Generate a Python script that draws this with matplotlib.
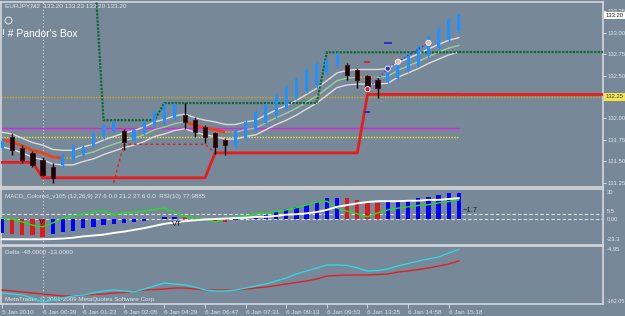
import numpy as np
import matplotlib
matplotlib.use('Agg')
import matplotlib.pyplot as plt
import matplotlib.transforms as mtrans

plt.rcParams['font.family'] = ['Liberation Sans', 'DejaVu Sans']

# EURJPY M2 heiken-ashi style candles
opens = [131.66, 131.78, 131.66, 131.60, 131.52, 131.44, 131.46, 131.52, 131.58, 131.68,
         131.78, 131.85, 131.85, 131.75, 131.83, 131.92, 131.96, 132.01, 132.04, 131.98,
         131.90, 131.83, 131.75, 131.68, 131.77, 131.87, 131.95, 132.03, 132.12, 132.24,
         132.32, 132.39, 132.53, 132.63, 132.62, 132.56, 132.49, 132.45, 132.42, 132.47,
         132.56, 132.62, 132.73, 132.82, 132.91, 133.02]
highs = [131.77, 131.83, 131.69, 131.62, 131.55, 131.48, 131.60, 131.70, 131.69, 131.84,
         131.94, 131.98, 131.88, 131.89, 131.98, 132.10, 132.18, 132.18, 132.18, 132.02,
         131.92, 131.84, 131.77, 131.89, 131.98, 132.10, 132.18, 132.30, 132.39, 132.48,
         132.59, 132.66, 132.70, 132.77, 132.65, 132.59, 132.51, 132.47, 132.54, 132.68,
         132.76, 132.85, 132.97, 133.06, 133.17, 133.23]
lows = [131.63, 131.58, 131.48, 131.44, 131.33, 131.25, 131.42, 131.49, 131.55, 131.66,
        131.76, 131.83, 131.63, 131.73, 131.81, 131.90, 131.92, 131.98, 131.88, 131.78,
        131.71, 131.59, 131.58, 131.66, 131.75, 131.84, 131.92, 132.01, 132.10, 132.22,
        132.30, 132.35, 132.51, 132.59, 132.45, 132.35, 132.31, 132.24, 132.41, 132.45,
        132.54, 132.60, 132.70, 132.80, 132.89, 133.00]
closes = [131.74, 131.63, 131.52, 131.46, 131.34, 131.31, 131.57, 131.68, 131.67, 131.82,
          131.91, 131.96, 131.73, 131.87, 131.96, 132.08, 132.15, 132.16, 131.96, 131.84,
          131.78, 131.67, 131.69, 131.87, 131.96, 132.08, 132.16, 132.27, 132.37, 132.46,
          132.56, 132.63, 132.68, 132.73, 132.51, 132.45, 132.38, 132.35, 132.53, 132.66,
          132.74, 132.83, 132.95, 133.04, 133.15, 133.20]

# moving average and its envelope
ma_mid = [131.75, 131.73, 131.68, 131.63, 131.60, 131.55, 131.54, 131.54, 131.58, 131.61,
          131.66, 131.70, 131.74, 131.77, 131.81, 131.87, 131.90, 131.94, 131.96, 131.92,
          131.89, 131.87, 131.84, 131.84, 131.87, 131.89, 131.95, 132.01, 132.06, 132.12,
          132.19, 132.26, 132.35, 132.44, 132.47, 132.48, 132.48, 132.48, 132.49, 132.56,
          132.61, 132.66, 132.72, 132.77, 132.82, 132.85]
ma_upper = [131.84, 131.82, 131.77, 131.72, 131.69, 131.64, 131.63, 131.63, 131.67, 131.70,
            131.75, 131.79, 131.83, 131.86, 131.90, 131.96, 131.99, 132.03, 132.05, 132.01,
            131.98, 131.96, 131.93, 131.93, 131.96, 131.98, 132.04, 132.10, 132.15, 132.21,
            132.28, 132.35, 132.44, 132.53, 132.56, 132.57, 132.57, 132.57, 132.58, 132.65,
            132.70, 132.75, 132.81, 132.86, 132.91, 132.94]
ma_lower = [131.67, 131.64, 131.60, 131.55, 131.52, 131.47, 131.46, 131.46, 131.50, 131.53,
            131.58, 131.62, 131.66, 131.69, 131.73, 131.79, 131.82, 131.86, 131.88, 131.84,
            131.81, 131.79, 131.76, 131.76, 131.79, 131.81, 131.87, 131.93, 131.98, 132.04,
            132.11, 132.18, 132.27, 132.36, 132.39, 132.40, 132.40, 132.40, 132.41, 132.48,
            132.53, 132.58, 132.64, 132.69, 132.74, 132.77]

# step lines (box levels)
green_box = [133.95] * 10 + [131.98] * 6 + [132.18] * 16 + [132.77] * 14
red_box = [131.49] * 4 + [131.31] * 17 + [131.60] * 15 + [132.28] * 10
red_dotted = [np.nan] * 11 + [131.25] + [131.70] * 9 + [131.60] + [np.nan] * 24

# horizontal levels
level_full = 132.25
magenta_level = 131.89
yellow_level = 131.785
olive_level = 131.22

# trend line points
trend_idx = [36, 38, 39, 42]
trend_val = [132.34, 132.58, 132.66, 132.88]
trend_col = ['#e02020', '#2030e0', '#f0b898', '#f0b898']

# MACD window
macd_hist = [-16, -17.5, -18, -18.5, -21, -17, -15.5, -13.5, -10.5, -9,
             -7, -6, -5, -3.5, -2, -0.5, 2, 2.5, 2, 1.5,
             -0.5, -2.5, -3, -1, 0.5, 1.5, 5, 8, 12, 14,
             16, 19.5, 24, 24.5, 24, 22, 19.5, 18.5, 19.5, 20,
             22, 24, 25.5, 27.5, 29.5, 30]
macd_green = [1, 0, -3.5, -7, -9, -4.5, 1, 3.5, 6, 8,
              9, 5, 7, 8, 9, 11, 12.5, 8, 2.5, 1,
              0, -3.5, 0, 2.5, 3.5, 6, 7, 8.5, 10.5, 13,
              16, 19.5, 20.5, 12.5, 9, 6, 2.5, 7, 10.5, 12.5,
              14, 15.5, 16.5, 18.5, 20, 22]
macd_white = [-23.3, -23.3, -23.3, -23.3, -23.3, -23, -22.5, -21.5, -20, -19,
              -18, -16, -14.5, -12.5, -10.5, -8, -5.5, -4, -2.5, -1.5,
              -0.5, 0, 0.5, 1, 1.5, 2.5, 2.5, 3.5, 5, 5.5,
              6.5, 8, 10.5, 14, 16, 18, 19.5, 20.5, 20.5, 20.5,
              21, 21, 22, 22, 23, 24]

# Delta window
delta_cyan = [-147.9, -151, -154, -163.4, -175.8, -169.6, -163.4, -157.2, -154.1, -147.9,
              -141.7, -138.6, -141.7, -144.8, -135.4, -126.1, -116.8, -119.9, -123, -129.2,
              -138.6, -141.7, -141.7, -138.6, -132.3, -126.1, -119.9, -110.6, -101.3, -88.8,
              -79.5, -70.2, -60.9, -60.9, -62.4, -70.2, -79.5, -78, -73.3, -64,
              -56.2, -48.5, -42.2, -36, -23.6, -13]
delta_red = [-138.6, -141.7, -144.8, -147.9, -151, -154.1, -157.2, -157.2, -154.1, -152.5,
             -151, -147.9, -146.3, -143.2, -138.6, -137, -135.4, -132.3, -132.3, -135.4,
             -138.6, -138.6, -138.6, -138.6, -135.4, -132.3, -129.2, -124.6, -119.9, -115.2,
             -110.6, -104.4, -95.1, -93.5, -92, -92, -92, -90.4, -88.8, -82.6,
             -79.5, -74.9, -70.2, -64, -57.8, -48]

time_labels = ['5 Jan 2010', '6 Jan 00:39', '6 Jan 01:23', '6 Jan 02:05', '6 Jan 04:29',
               '6 Jan 06:47', '6 Jan 07:31', '6 Jan 09:13', '6 Jan 09:53', '6 Jan 13:25',
               '6 Jan 14:58', '6 Jan 15:18']
price_ticks = [131.25, 131.50, 131.75, 132.00, 132.50, 132.75, 133.00, 133.25]

BG = '#778899'
FG = '#e4e6ea'
W, H = 625, 316
XMIN, XMAX = -0.1, 59.2
RFONT = 4.2


def px_axes(fig, x0, y0, x1, y1):
  ax = fig.add_axes([x0 / W, 1 - y1 / H, (x1 - x0) / W, (y1 - y0) / H])
  ax.set_facecolor(BG)
  ax.set_xlim(XMIN, XMAX)
  for s in ax.spines.values():
    s.set_color('#d4d8de')
    s.set_linewidth(1.2)
  ax.set_xticks([])
  ax.set_yticks([])
  # crosshair-like dotted vertical line
  ax.axvline(4, color='#d0d4da', ls=(0, (1, 2)), lw=0.8, zorder=1)
  return ax


def right_label(ax, y, txt, va='center', size=RFONT, **kw):
  tr = mtrans.blended_transform_factory(ax.transAxes, ax.transData)
  ax.text(1.006, y, txt, transform=tr, ha='left', va=va, fontsize=size, color=FG, clip_on=False, **kw)


def draw_candles(ax):
  x = np.arange(len(opens))
  for i in x:
    up = closes[i] >= opens[i]
    col = '#1e90ff' if up else '#000000'
    ax.vlines(i, lows[i], highs[i], color=col, lw=1, zorder=6)
    lo, hi = min(opens[i], closes[i]), max(opens[i], closes[i])
    if up:
      ax.bar(i, hi - lo, 0.3, lo, color='#1e90ff', zorder=7)
    else:
      ax.bar(i, hi - lo, 0.42, lo, color='#140000', edgecolor='#4a0808', lw=0.6, zorder=7)


def draw_mid(ax):
  # falling -> red, rising -> pale green, flat -> orange dots
  for i in range(len(ma_mid) - 1):
    d = ma_mid[i + 1] - ma_mid[i]
    seg = ([i, i + 1], [ma_mid[i], ma_mid[i + 1]])
    if d < -0.005:
      ax.plot(*seg, color='#f04018', lw=2, zorder=4, solid_capstyle='butt')
    elif d > 0.005:
      ax.plot(*seg, color='#9ccc9c', lw=1, zorder=4)
    else:
      ax.plot(*seg, color='#e8a020', lw=1.2, ls=(0, (1, 1)), zorder=4)


fig = plt.figure(figsize=(W / 100, H / 100), dpi=100, facecolor=BG)

# ---- main price window
ax = px_axes(fig, 1, 2, 603, 187)
ax.set_ylim(131.203, 133.355)
x = np.arange(len(opens))
last = len(opens) - 1

ax.hlines(level_full, XMIN, XMAX, color='#d8a818', lw=1, ls=(0, (1, 1)), zorder=2)
ax.hlines(magenta_level, XMIN, last, color='#e020e0', lw=1, zorder=2)
ax.hlines(yellow_level, XMIN, last, color='#f0e020', lw=1, ls=(0, (1, 1)), zorder=2)
ax.hlines(olive_level, XMIN, last, color='#b0a010', lw=1, ls=(0, (1, 1)), zorder=2)

ax.plot(x, ma_upper, color='#dcdcdc', lw=1, zorder=3)
ax.plot(x, ma_lower, color='#dcdcdc', lw=1, zorder=3)
draw_mid(ax)

ax.plot(x, green_box, color='#0a6a30', lw=1.6, ls=(0, (1, 0.6)), zorder=5)
ax.hlines(green_box[-1], last, XMAX, color='#0a6a30', lw=1.6, ls=(0, (1, 0.6)), zorder=5)
ax.plot(x, red_box, color='#e81c1c', lw=2, zorder=5)
ax.hlines(red_box[-1], last, XMAX, color='#e81c1c', lw=2, zorder=5)
ax.plot(x, red_dotted, color='#e02020', lw=1, ls=(0, (2, 2)), zorder=5)

draw_candles(ax)

ax.plot(trend_idx, trend_val, color='#3a3ad0', lw=1, ls=(0, (1, 1.5)), zorder=8)
ax.scatter(trend_idx, trend_val, s=14, c=trend_col, edgecolors='white', linewidths=0.6, zorder=9)
ax.plot([38], [132.88], marker='_', ms=6, color='#2020d0', mew=1.2, zorder=9)
ax.plot([36], [132.66], marker='_', ms=5, color='#d02020', mew=1.2, zorder=9)
ax.plot([36], [132.08], marker='_', ms=4, color='#2020d0', mew=1.2, zorder=9)

ax.yaxis.tick_right()
ax.set_yticks(price_ticks)
ax.set_yticklabels(['%.2f' % p for p in price_ticks])
ax.tick_params(axis='y', colors=FG, labelsize=RFONT, length=2, width=0.6, pad=1)
tr = mtrans.blended_transform_factory(ax.transAxes, ax.transData)
ax.text(1.004, 133.20, '133.20', transform=tr, ha='left', va='center', fontsize=RFONT, color='#202020',
        bbox=dict(boxstyle='square,pad=0.2', fc='white', ec='none'), clip_on=False)
ax.text(1.004, level_full, '132.25', transform=tr, ha='left', va='center', fontsize=RFONT, color='#404040',
        bbox=dict(boxstyle='square,pad=0.2', fc='#f4e44c', ec='none'), clip_on=False)

fig.text(5 / W, 1 - 6 / H, 'EURJPY,M2  133.20 133.23 133.20 133.20', fontsize=4.6, color=FG, va='center')
ax.plot([0.011], [0.905], transform=ax.transAxes, marker='o', ms=5, mfc='none', mec=FG, mew=0.7)
fig.text(2 / W, 1 - 34 / H, "! # Pandor's Box", fontsize=7.5, color='white', va='center')

# ---- MACD window
ax2 = px_axes(fig, 1, 189, 603, 245)
ax2.set_ylim(-29.9, 34.5)
hist_col = ['#0000ff'] + ['#e01818' if macd_hist[i] < macd_hist[i - 1] else '#0000ff'
                          for i in range(1, len(macd_hist))]
ax2.bar(x, macd_hist, 0.42, color=hist_col, zorder=3)
ax2.hlines([5.5, 0], XMIN, XMAX, color='#e0e0e0', lw=0.8, ls=(0, (3, 2)), zorder=2)
ax2.plot(x, macd_green, color='#20e020', lw=1, zorder=4)
ax2.plot(x, macd_white, color='white', lw=1.4, zorder=4)
ax2.text(3.6, -6, 'V', fontsize=5.5, color='#101010', zorder=6)
ax2.text(16.7, -7.5, 'VT', fontsize=5.5, color='#101010', zorder=6)
ax2.text(45.4, 10, '\u22121.7', fontsize=5.5, color='#202020', va='center', zorder=6)
ax2.text(0.006, 0.86, 'MACD_Colored_v105 (12,26,9) 27.6 0.0 21.2 27.6 0.0  RSI(10) 77.9885',
         transform=ax2.transAxes, fontsize=4.5, color=FG, va='center')
right_label(ax2, 30, '30')
right_label(ax2, 5.5, '5.5', va='bottom')
right_label(ax2, 0, '0.00')
right_label(ax2, -23.3, '-23.3')

# ---- Delta window
ax3 = px_axes(fig, 1, 246, 603, 304)
ax3.set_ylim(-182.05, -1.84)
ax3.plot(x, delta_cyan, color='#30d8e0', lw=1, zorder=4)
ax3.plot(x, delta_red, color='#e02020', lw=1, zorder=3)
ax3.text(0.006, 0.88, 'Delta -48.0000 -13.0000', transform=ax3.transAxes, fontsize=4.5, color=FG, va='center')
ax3.text(0.006, 0.08, 'MetaTrader, \u00a9 2001-2009 MetaQuotes Software Corp.', transform=ax3.transAxes,
         fontsize=4.5, color=FG, va='center')
right_label(ax3, -4.95, '-4.95', va='top')
right_label(ax3, -182.05, '-182.05', va='bottom', size=3.9)

ax3.set_xticks(range(0, 45, 4))
ax3.set_xticklabels(time_labels, ha='left')
ax3.tick_params(axis='x', colors=FG, labelsize=4.6, length=3, width=0.6, pad=1)

fig.savefig('out.png', dpi=100, facecolor=BG)
